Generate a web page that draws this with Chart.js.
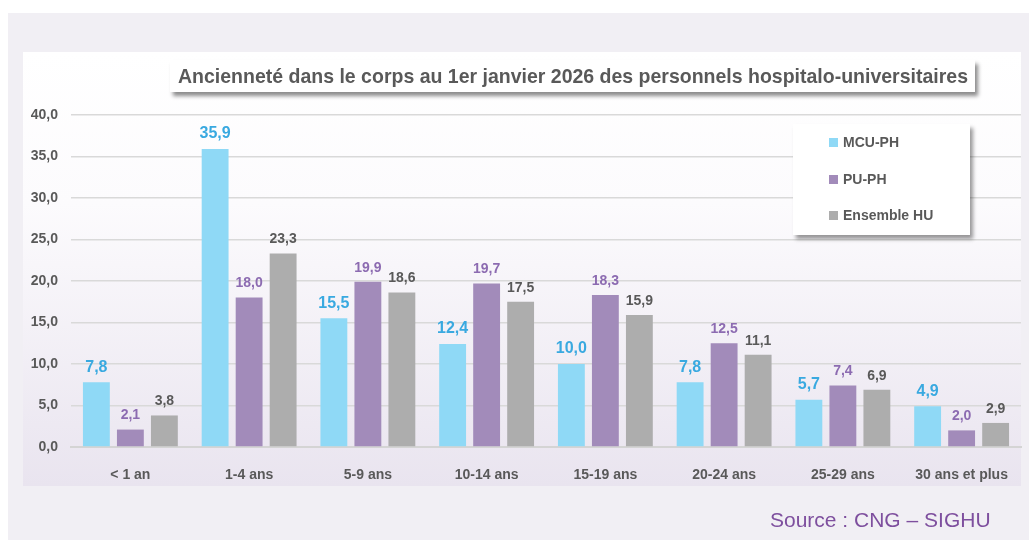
<!DOCTYPE html>
<html><head><meta charset="utf-8">
<script src="https://cdn.jsdelivr.net/npm/chart.js@4.4.1/dist/chart.umd.min.js"></script>
<style>
html,body{margin:0;padding:0;background:#fff;width:1029px;height:540px;overflow:hidden;font-family:"Liberation Sans",Arial,sans-serif;}
#outer{position:absolute;left:8px;top:13px;width:1021px;height:527px;background:#f1eff4;}
#panel{position:absolute;left:23px;top:52px;width:998px;height:434px;background:linear-gradient(to bottom,#ffffff 0%,#fcfbfd 35%,#e9e4ef 100%);}
#wrap{position:absolute;left:0;top:0;width:1029px;height:540px;}
#title{position:absolute;left:170px;top:60px;width:805px;height:32px;background:#fff;box-shadow:3px 4px 4px rgba(0,0,0,0.45);}
#titleText{position:absolute;left:8px;top:0;font-weight:bold;font-size:21px;color:#595959;line-height:32px;white-space:nowrap;transform-origin:0 50%;}
#legend{position:absolute;left:793px;top:124px;width:177px;height:111px;background:#fff;box-shadow:3px 4px 4px rgba(0,0,0,0.4);}
.li{position:absolute;left:36px;font-weight:bold;font-size:14px;color:#595959;white-space:nowrap;}
.sw{display:inline-block;width:9px;height:9px;margin-right:5px;vertical-align:0px;}
#source{position:absolute;left:770px;top:508px;font-size:21px;color:#7e4f9e;white-space:nowrap;}
</style></head>
<body>
<div id="outer"></div>
<div id="panel"></div>
<div id="wrap"><canvas id="c" width="1029" height="540"></canvas></div>
<div id="title"><span id="titleText">Ancienneté dans le corps au 1er janvier 2026 des personnels hospitalo-universitaires</span></div>
<div id="legend">
 <div class="li" style="top:10px"><span class="sw" style="background:#8fd9f6"></span>MCU-PH</div>
 <div class="li" style="top:47px"><span class="sw" style="background:#a28bba"></span>PU-PH</div>
 <div class="li" style="top:83px"><span class="sw" style="background:#adadad"></span>Ensemble HU</div>
</div>
<div id="source">Source : CNG – SIGHU</div>
<script>
const categories = ["< 1 an","1-4 ans","5-9 ans","10-14 ans","15-19 ans","20-24 ans","25-29 ans","30 ans et plus"];
const mcuPh = [7.8,35.9,15.5,12.4,10.0,7.8,5.7,4.9];
const puPh = [2.1,18.0,19.9,19.7,18.3,12.5,7.4,2.0];
const ensembleHu = [3.8,23.3,18.6,17.5,15.9,11.1,6.9,2.9];
const seriesNames = ["MCU-PH","PU-PH","Ensemble HU"];
const barColors = ["#8fd9f6","#a28bba","#adadad"];
const labelColors = ["#39a9e0","#8c6bb1","#595959"];
const labelSizes = [16,14,14];

// fit title width to reference (~790px)
(function(){
  const t=document.getElementById('titleText');
  const w=t.getBoundingClientRect().width;
  t.style.transform='scaleX('+(790/w)+')';
})();

const fmt = v => v.toFixed(1).replace('.', ',');

const labelPlugin = {
  id:'valLabels',
  afterDatasetsDraw(chart){
    const ctx = chart.ctx;
    chart.data.datasets.forEach((ds,i)=>{
      const meta = chart.getDatasetMeta(i);
      meta.data.forEach((bar,j)=>{
        ctx.save();
        ctx.font = 'bold '+labelSizes[i]+'px "Liberation Sans", Arial, sans-serif';
        ctx.fillStyle = labelColors[i];
        ctx.textAlign='center';
        ctx.textBaseline='bottom';
        ctx.fillText(fmt(ds.data[j]), bar.x, bar.y-7);
        ctx.restore();
      });
    });
  }
};

new Chart(document.getElementById('c'),{
  type:'bar',
  data:{labels:categories,datasets:[
    {label:seriesNames[0],data:mcuPh,backgroundColor:barColors[0]},
    {label:seriesNames[1],data:puPh,backgroundColor:barColors[1]},
    {label:seriesNames[2],data:ensembleHu,backgroundColor:barColors[2]}
  ]},
  options:{
    responsive:false,animation:false,
    categoryPercentage:0.859,barPercentage:0.79,
    layout:{padding:{left:0,top:115,right:8,bottom:53}},
    plugins:{legend:{display:false},title:{display:false},tooltip:{enabled:false}},
    scales:{
      x:{grid:{display:false},border:{display:true,color:'#d4d4d4',width:2},
         ticks:{color:'#595959',font:{family:'"Liberation Sans", Arial, sans-serif',size:14,weight:'bold'},padding:12,maxRotation:0},
         afterFit(s){s.height=40;}},
      y:{min:0,max:40,ticks:{stepSize:5,color:'#595959',padding:13,font:{family:'"Liberation Sans", Arial, sans-serif',size:14,weight:'bold'},callback:v=>fmt(v)},
         grid:{color:'#d9d9d9',lineWidth:1.5,drawTicks:false},border:{display:false},
         afterFit(s){s.width=71;}}
    }
  },
  plugins:[labelPlugin]
});
</script>
</body></html>
